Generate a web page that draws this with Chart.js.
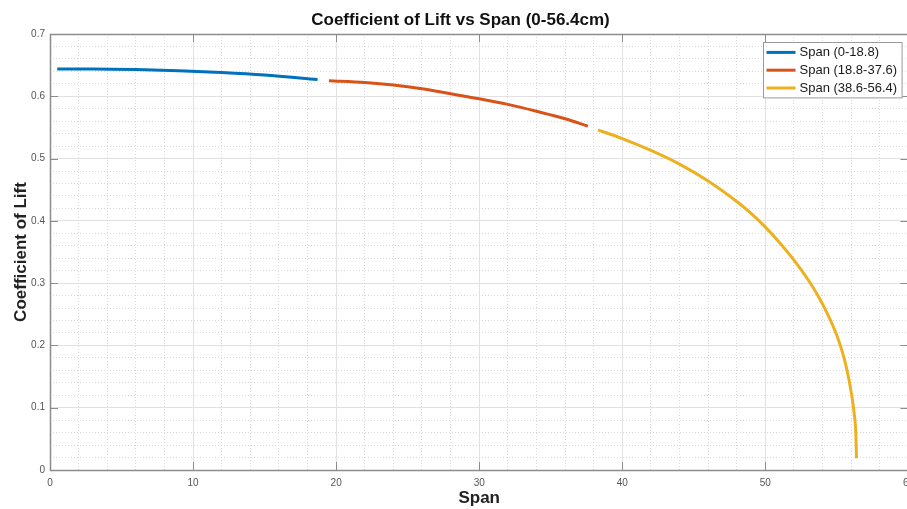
<!DOCTYPE html>
<html>
<head>
<meta charset="utf-8">
<title>Coefficient of Lift vs Span</title>
<script src="https://cdn.jsdelivr.net/npm/chart.js@4.4.0/dist/chart.umd.min.js"></script>
<style>
  html, body { margin: 0; padding: 0; background: #fff; overflow: hidden; }
  #wrap { width: 921px; height: 509px; }
</style>
</head>
<body>
<div id="wrap"><canvas id="liftChart" width="921" height="509"></canvas></div>
<script>
// spanwise lift coefficient, three spar sections
const seriesLabels = ['Span (0-18.8)', 'Span (18.8-37.6)', 'Span (38.6-56.4)'];
const seriesColors = ['#0072BD', '#D95319', '#EDB120'];

const spanRoot = [0.5, 3, 6, 9, 12, 15, 18.7];
const clRoot   = [0.644, 0.644, 0.643, 0.641, 0.638, 0.634, 0.627];

const spanMid = [19.5, 22, 24, 26, 28, 30, 32, 34, 36, 37.6];
const clMid   = [0.625, 0.622, 0.618, 0.612, 0.604, 0.596, 0.587, 0.576, 0.564, 0.552];

const spanTip = [38.3, 40, 42, 44, 46, 48, 49, 50, 51, 52, 53, 53.7, 54.4, 55, 55.4, 55.7, 56, 56.2, 56.32, 56.37];
const clTip   = [0.546, 0.532, 0.513, 0.491, 0.464, 0.431, 0.412, 0.390, 0.365, 0.337, 0.305, 0.279, 0.248, 0.216, 0.188, 0.161, 0.125, 0.092, 0.060, 0.019];

const xTicks = [0, 10, 20, 30, 40, 50, 60];
const yTicks = [0, 0.1, 0.2, 0.3, 0.4, 0.5, 0.6, 0.7];

const FONT = '"Liberation Sans", Arial, Helvetica, sans-serif';

function toPoints(xs, ys) {
  return xs.map((v, i) => ({ x: v, y: ys[i] }));
}

const allSeries = [[spanRoot, clRoot], [spanMid, clMid], [spanTip, clTip]];

// MATLAB style box with inward tick marks
const axesBox = {
  id: 'axesBox',
  afterDatasetsDraw(chart) {
    const { ctx, chartArea: a, scales: { x, y } } = chart;
    ctx.save();
    ctx.strokeStyle = '#8c8c8c';
    ctx.lineWidth = 1;
    ctx.beginPath();
    xTicks.forEach(v => {
      const px = Math.round(x.getPixelForValue(v)) + 0.5;
      ctx.moveTo(px, a.bottom); ctx.lineTo(px, a.bottom - 8);
      ctx.moveTo(px, a.top); ctx.lineTo(px, a.top + 8);
    });
    yTicks.forEach(v => {
      const py = Math.round(y.getPixelForValue(v)) + 0.5;
      ctx.moveTo(a.left, py); ctx.lineTo(a.left + 8, py);
      ctx.moveTo(a.right, py); ctx.lineTo(a.right - 8, py);
    });
    ctx.stroke();
    ctx.lineWidth = 1.5;
    ctx.strokeRect(Math.round(a.left) + 0.5, Math.round(a.top) + 0.5,
                   Math.round(a.right - a.left), Math.round(a.bottom - a.top));
    ctx.restore();
  }
};

// legend box drawn inside the axes, top right
const boxLegend = {
  id: 'boxLegend',
  afterDraw(chart) {
    const { ctx, chartArea: a } = chart;
    const sets = chart.data.datasets;
    ctx.save();
    ctx.font = '13px ' + FONT;
    const textW = Math.max(...sets.map(d => ctx.measureText(d.label).width));
    const rowH = 17.8;
    const w = 3 + 29 + 4 + textW + 5;
    const h = rowH * sets.length + 2;
    const left = Math.round(a.right - 7 - w) + 0.5;
    const top = Math.round(a.top + 8) + 0.5;
    ctx.fillStyle = '#fff';
    ctx.fillRect(left, top, w, h);
    ctx.strokeStyle = '#9a9a9a';
    ctx.lineWidth = 1;
    ctx.strokeRect(left, top, w, h);
    ctx.textBaseline = 'middle';
    sets.forEach((d, i) => {
      const cy = top + 1 + rowH * (i + 0.5);
      ctx.strokeStyle = d.borderColor;
      ctx.lineWidth = 3;
      ctx.beginPath();
      ctx.moveTo(left + 3, cy);
      ctx.lineTo(left + 32, cy);
      ctx.stroke();
      ctx.fillStyle = '#1a1a1a';
      ctx.fillText(d.label, left + 36, cy + 0.5);
    });
    ctx.restore();
  }
};

const isMajorX = v => Math.abs(Math.round(v) % 10) === 0 && Math.abs(v - Math.round(v)) < 1e-6;
const isMajorY = v => Math.round(v * 50) % 5 === 0;

const config = {
  type: 'scatter',
  data: {
    datasets: allSeries.map((s, i) => ({
      label: seriesLabels[i],
      data: toPoints(s[0], s[1]),
      showLine: true,
      borderColor: seriesColors[i],
      backgroundColor: seriesColors[i],
      borderWidth: 3,
      pointRadius: 0,
      pointHoverRadius: 0,
      cubicInterpolationMode: 'monotone'
    }))
  },
  plugins: [axesBox, boxLegend],
  options: {
    responsive: false,
    animation: false,
    layout: { padding: 0 },
    plugins: {
      legend: { display: false },
      tooltip: { enabled: false },
      title: {
        display: true,
        text: 'Coefficient of Lift vs Span (0-56.4cm)',
        color: '#111',
        font: { family: FONT, size: 17, weight: 'bold', lineHeight: 1.2 },
        padding: { top: 10, bottom: 3.6 }
      }
    },
    scales: {
      x: {
        type: 'linear',
        position: 'bottom',
        min: 0, max: 60,
        ticks: { stepSize: 10, padding: 7, color: '#555', font: { family: FONT, size: 10 } },
        grid: { color: '#e2e2e2', lineWidth: 1, drawTicks: false },
        border: { display: false },
        title: {
          display: true, text: 'Span', color: '#222',
          font: { family: FONT, size: 17, weight: 'bold', lineHeight: 1.2 },
          padding: { top: 0, bottom: 0 }
        },
        afterFit(s) { s.height = 39; }
      },
      y: {
        type: 'linear',
        position: 'left',
        min: 0, max: 0.7,
        ticks: { stepSize: 0.1, padding: 5, color: '#555', font: { family: FONT, size: 10 } },
        grid: { color: '#e2e2e2', lineWidth: 1, drawTicks: false },
        border: { display: false },
        title: {
          display: true, text: 'Coefficient of Lift', color: '#222',
          font: { family: FONT, size: 17, weight: 'bold', lineHeight: 1.2 },
          padding: { top: 11, bottom: 0 }
        },
        afterFit(s) { s.width = 50; }
      },
      xMinor: {
        type: 'linear',
        position: 'top',
        min: 0, max: 60,
        ticks: { stepSize: 2, display: false },
        grid: {
          drawTicks: false,
          color: c => isMajorX(c.tick.value) ? 'rgba(0,0,0,0)' : '#dadada'
        },
        border: { display: false, dash: [1, 2] },
        afterFit(s) { s.height = 0; }
      },
      yMinor: {
        type: 'linear',
        position: 'right',
        min: 0, max: 0.7,
        ticks: { stepSize: 0.02, display: false },
        grid: {
          drawTicks: false,
          color: c => isMajorY(c.tick.value) ? 'rgba(0,0,0,0)' : '#dadada'
        },
        border: { display: false, dash: [1, 2] },
        afterFit(s) { s.width = 0; }
      }
    }
  }
};

new Chart(document.getElementById('liftChart'), config);
</script>
</body>
</html>
